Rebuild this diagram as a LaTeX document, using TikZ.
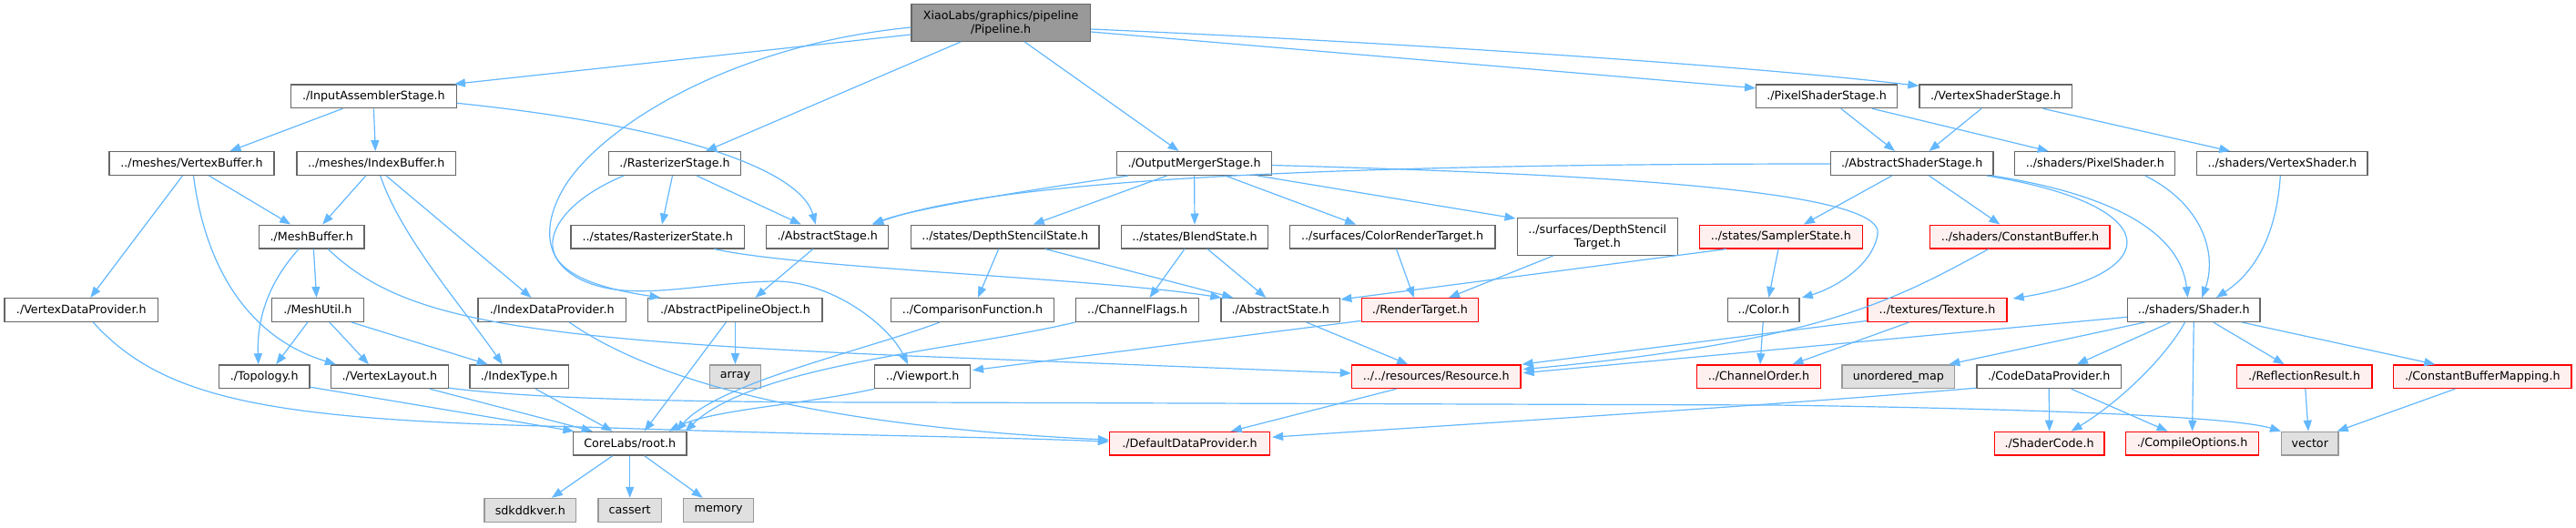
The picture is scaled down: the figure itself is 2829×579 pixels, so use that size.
\documentclass[tikz,border=0pt]{standalone}
\usepackage{fontspec}
\setmainfont{DejaVu Sans}
\usetikzlibrary{arrows.meta,calc}
\definecolor{edgec}{HTML}{63B8FF}
\definecolor{bordc}{HTML}{666666}
\definecolor{redfill}{HTML}{FFF0F0}
\definecolor{grayfill}{HTML}{E0E0E0}
\definecolor{graybord}{HTML}{999999}
\definecolor{mainfill}{HTML}{999999}
\begin{document}
\begin{tikzpicture}[x=1pt,y=-1pt,
  nb/.style={draw=bordc, fill=white, line width=1.3pt, minimum height=25.7pt, inner sep=0pt, font=\fontsize{12.7}{15}\selectfont, text=black},
  nr/.style={nb, draw=red, fill=redfill},
  ng/.style={nb, draw=graybord, fill=grayfill},
  nm/.style={nb, draw=bordc, fill=mainfill, align=center},
  ed/.style={draw=edgec, line width=1.2pt, -{Triangle[length=12pt,width=9pt]}}]
\fill[white] (0,0) rectangle (2829,579);
\useasboundingbox (0,0) rectangle (2829,579);
% row 0
\node[nm, minimum width=196.4pt, minimum height=40.6pt] (pipe) at (1099.2,25) {XiaoLabs/graphics/pipeline\\/Pipeline.h};
% row 1
\node[nb, minimum width=181.8pt] (ias) at (410.4,105.8) {./InputAssemblerStage.h};
\node[nb, minimum width=154.8pt] (pss) at (2006.1,105.8) {./PixelShaderStage.h};
\node[nb, minimum width=167.3pt] (vss) at (2191.6,105.8) {./VertexShaderStage.h};
% row 2
\node[nb, minimum width=181.1pt] (vb) at (210.5,179.5) {../meshes/VertexBuffer.h};
\node[nb, minimum width=174.7pt] (ib) at (413.3,179.5) {../meshes/IndexBuffer.h};
\node[nb, minimum width=145.4pt] (rs) at (741.1,179.5) {./RasterizerStage.h};
\node[nb, minimum width=169.6pt] (oms) at (1311.6,179.5) {./OutputMergerStage.h};
\node[nb, minimum width=178.5pt] (ass) at (2099.8,179.5) {./AbstractShaderStage.h};
\node[nb, minimum width=176pt] (ps) at (2300.8,179.5) {../shaders/PixelShader.h};
\node[nb, minimum width=187.3pt] (vs) at (2506.3,179.5) {../shaders/VertexShader.h};
% row 3
\node[nb, minimum width=115.5pt] (mb) at (342.2,260) {./MeshBuffer.h};
\node[nb, minimum width=190.7pt] (rst) at (722.3,260) {../states/RasterizerState.h};
\node[nb, minimum width=134pt] (as) at (908.8,260) {./AbstractStage.h};
\node[nb, minimum width=206.6pt] (dss) at (1103.7,260) {../states/DepthStencilState.h};
\node[nb, minimum width=161.3pt] (bs) at (1312,260) {../states/BlendState.h};
\node[nb, minimum width=225.8pt] (crt) at (1529.1,260) {../surfaces/ColorRenderTarget.h};
\node[nb, minimum width=176pt, minimum height=40.7pt, align=center] (dst) at (1754.2,260) {../surfaces/DepthStencil\\Target.h};
\node[nr, minimum width=179.2pt] (ss) at (1955.8,260) {../states/SamplerState.h};
\node[nr, minimum width=197.3pt] (cb) at (2218.4,260) {../shaders/ConstantBuffer.h};
% row 4
\node[nb, minimum width=168.4pt] (vdp) at (89.3,340.5) {./VertexDataProvider.h};
\node[nb, minimum width=100.7pt] (mu) at (348.9,340.5) {./MeshUtil.h};
\node[nb, minimum width=162.6pt] (idp) at (606.2,340.5) {./IndexDataProvider.h};
\node[nb, minimum width=191.4pt] (apo) at (807.4,340.5) {./AbstractPipelineObject.h};
\node[nb, minimum width=178.6pt] (cf) at (1068,340.5) {../ComparisonFunction.h};
\node[nb, minimum width=135.2pt] (chf) at (1249.1,340.5) {../ChannelFlags.h};
\node[nb, minimum width=130.8pt] (ast) at (1406.3,340.5) {./AbstractState.h};
\node[nr, minimum width=128.2pt] (rt) at (1559.4,340.5) {./RenderTarget.h};
\node[nb, minimum width=78.6pt] (col) at (1936.8,340.5) {../Color.h};
\node[nr, minimum width=153pt] (tex) at (2127.5,340.5) {../textures/Texture.h};
\node[nb, minimum width=145.5pt] (sh) at (2409.2,340.5) {../shaders/Shader.h};
% row 5
\node[nb, minimum width=99.5pt] (top) at (290.2,413.7) {./Topology.h};
\node[nb, minimum width=128.8pt] (vl) at (427.9,413.7) {./VertexLayout.h};
\node[nb, minimum width=108.4pt] (it) at (570.2,413.7) {./IndexType.h};
\node[ng, minimum width=56.2pt] (arr) at (807.4,413.7) {array};
\node[nb, minimum width=104.6pt] (vp) at (1013.1,413.7) {../Viewport.h};
\node[nr, minimum width=185.6pt] (res) at (1577.2,413.7) {../../resources/Resource.h};
\node[nr, minimum width=135.5pt] (co) at (1931.5,413.7) {../ChannelOrder.h};
\node[ng, minimum width=123.6pt] (um) at (2084.8,413.7) {unordered\_map};
\node[nb, minimum width=158.6pt] (cdp) at (2250.2,413.7) {./CodeDataProvider.h};
\node[nr, minimum width=148.6pt] (rr) at (2530.6,413.7) {./ReflectionResult.h};
\node[nr, minimum width=195.4pt] (cbm) at (2726.3,413.7) {./ConstantBufferMapping.h};
% row 6
\node[nb, minimum width=124.3pt] (core) at (691.7,487.2) {CoreLabs/root.h};
\node[nr, minimum width=176pt] (ddp) at (1306.5,487.2) {./DefaultDataProvider.h};
\node[nr, minimum width=120.5pt] (sc) at (2250.6,487.2) {./ShaderCode.h};
\node[nr, minimum width=146.1pt] (cop) at (2407.6,487.2) {./CompileOptions.h};
\node[ng, minimum width=62.4pt] (vec) at (2536.8,487.2) {vector};
% row 7
\node[ng, minimum width=100.8pt] (sdk) at (582.3,560.3) {sdkddkver.h};
\node[ng, minimum width=69.5pt] (cas) at (691.7,560.3) {cassert};
\node[ng, minimum width=77.2pt] (mem) at (789.2,560.3) {memory};
% edges from Pipeline
\draw[ed] ($(pipe.west)+(0,13)$) -- ($(ias.north east)+(-3,0)$);
\draw[ed] ($(pipe.west)+(0,5)$) .. controls (800,50) and (660,140) .. (620,205) .. controls (590,255) and (600,300) .. (660,315) .. controls (710,328) and (780,310) .. (850,309) .. controls (910,308) and (975,355) .. ($(vp.north)+(-16,0)$);
\draw[ed] ($(pipe.south)+(-44,0)$) -- ($(rs.north)+(34,0)$);
\draw[ed] ($(pipe.south)+(26,0)$) -- ($(oms.north)+(-17,0)$);
\draw[ed] ($(pipe.east)+(0,10)$) -- ($(pss.west)+(0,-9)$);
\draw[ed] ($(pipe.east)+(0,7)$) .. controls (1500,45) and (1900,70) .. ($(vss.north west)+(0,2)$);
% input assembler side
\draw[ed] ($(ias.south)+(-34,0)$) -- ($(vb.north)+(42,0)$);
\draw[ed] (ias.south) -- ($(ib.north)+(-1,0)$);
\draw[ed] ($(ias.east)+(0,7.5)$) .. controls (760,140) and (880,190) .. ($(as.north)+(-13,0)$);
\draw[ed] ($(vb.south)+(19,0)$) -- ($(mb.north)+(-23,0)$);
\draw[ed] ($(vb.south)+(-10,0)$) -- ($(vdp.north)+(10,0)$);
\draw[ed] ($(vb.south)+(2,0)$) .. controls (225,290) and (270,370) .. ($(vl.north west)+(6,0)$);
\draw[ed] ($(ib.south)+(-11.5,0)$) -- ($(mb.north)+(12,0)$);
\draw[ed] ($(ib.south)+(4.4,0)$) .. controls (440,260) and (510,340) .. ($(it.north)+(-18.5,0)$);
\draw[ed] ($(ib.south)+(10.7,0)$) -- ($(idp.north)+(-22.7,0)$);
\draw[ed] ($(mb.south)+(-14,0)$) .. controls (295,310) and (282,350) .. ($(top.north)+(-6.4,0)$);
\draw[ed] ($(mb.south)+(2.2,0)$) -- ($(mu.north)+(-1.3,0)$);
\draw[ed] ($(mb.south)+(18,0)$) .. controls (440,350) and (560,372) .. (1000,391) -- ($(res.west)+(0,-3.7)$);
\draw[ed] ($(mu.south)+(-11,0)$) -- ($(top.north)+(13,0)$);
\draw[ed] ($(mu.south)+(13,0)$) -- ($(vl.north)+(-23,0)$);
\draw[ed] ($(mu.south)+(37,0)$) -- ($(it.north)+(-34.5,0)$);
\draw[ed] ($(vdp.south)+(13,0)$) .. controls (180,440) and (300,462) .. (640,469) .. controls (900,478) and (1100,480) .. ($(ddp.west)+(0,-2)$);
\draw[ed] ($(idp.south)+(19,0)$) .. controls (720,420) and (900,468) .. ($(ddp.west)+(0,-4)$);
\draw[ed] ($(top.south east)+(0,-2)$) -- ($(core.north west)+(1.5,0)$);
\draw[ed] ($(vl.south)+(44,0)$) -- ($(core.north)+(-41,0)$);
\draw[ed] ($(it.south)+(18,0)$) -- ($(core.north)+(-19,0)$);
\draw[ed] ($(vl.south east)+(0,-1)$) .. controls (600,440) and (800,442) .. (1000,442) -- (1950,445) .. controls (2300,450) and (2460,460) .. (vec.north west);
\draw[ed] (apo.south) -- (arr.north);
\draw[ed] ($(apo.south)+(-10,0)$) -- ($(core.north)+(16,0)$);
\draw[ed] ($(as.south)+(-16,0)$) -- ($(apo.north)+(22,0)$);
\draw[ed] ($(cf.south west)+(54,0)$) .. controls (950,385) and (790,420) .. ($(core.north east)+(-12,0)$);
\draw[ed] (chf.south west) .. controls (1050,385) and (830,400) .. ($(core.north east)+(-2,0)$);
\draw[ed] (vp.south west) .. controls (880,445) and (780,450) .. ($(core.north east)+(-20,0)$);
\draw[ed] ($(core.south)+(-19,0)$) -- ($(sdk.north)+(23.6,0)$);
\draw[ed] (core.south) -- (cas.north);
\draw[ed] ($(core.south)+(16,0)$) -- ($(mem.north)+(-17.5,0)$);
% rasterizer
\draw[ed] ($(rs.south)+(-56,0)$) .. controls (620,220) and (595,260) .. (612,285) .. controls (630,310) and (680,320) .. ($(apo.north)+(-82,0)$);
\draw[ed] ($(rs.south)+(-2.6,0)$) -- ($(rst.north)+(4.7,0)$);
\draw[ed] ($(rs.south)+(24,0)$) -- ($(as.north)+(-29,0)$);
\draw[ed] ($(rst.south)+(62,0)$) .. controls (880,295) and (1200,305) .. ($(ast.north west)+(1,0)$);
% output merger
\draw[ed] ($(oms.south west)+(13,0)$) .. controls (1120,210) and (1000,230) .. ($(as.north east)+(-19,0)$);
\draw[ed] ($(ass.west)+(0,0.5)$) .. controls (1500,180) and (1100,195) .. ($(as.north east)+(-18,0)$);
\draw[ed] ($(oms.south)+(-30,0)$) -- ($(dss.north)+(31,0)$);
\draw[ed] (oms.south) -- (bs.north);
\draw[ed] ($(oms.south)+(34,0)$) -- ($(crt.north)+(-40,0)$);
\draw[ed] ($(oms.south east)+(-16,0)$) -- ($(dst.north west)+(-1,1)$);
\draw[ed] ($(oms.east)+(0,2)$) .. controls (1700,190) and (2075,205) .. (2062,258) .. controls (2055,295) and (2010,318) .. ($(col.north east)+(2,0)$);
\draw[ed] ($(dss.south)+(-7,0)$) -- ($(cf.north)+(6,0)$);
\draw[ed] ($(dss.south)+(44,0)$) -- ($(ast.north west)+(14,0)$);
\draw[ed] ($(bs.south)+(-11,0)$) -- ($(chf.north)+(13.4,0)$);
\draw[ed] ($(bs.south)+(14,0)$) -- ($(ast.north)+(-16,0)$);
\draw[ed] ($(crt.south)+(4.4,0)$) -- ($(rt.north)+(-6.7,0)$);
\draw[ed] ($(dst.south)+(-48.5,0)$) -- ($(rt.north)+(31.6,0)$);
\draw[ed] ($(ss.south west)+(30.6,0)$) -- ($(ast.north east)+(0,2)$);
\draw[ed] ($(ss.south)+(-2.8,0)$) -- ($(col.north)+(5.6,0)$);
\draw[ed] ($(ast.south)+(28.4,0)$) -- ($(res.north)+(-31,0)$);
\draw[ed] ($(rt.south west)+(0,-1.6)$) -- ($(vp.east)+(2,-7)$);
\draw[ed] ($(res.south)+(-43.7,0)$) -- ($(ddp.north)+(45.3,0)$);
% shader side
\draw[ed] ($(tex.south west)+(0,-1.6)$) -- ($(res.north east)+(1,0)$);
\draw[ed] ($(cb.south)+(-34.4,0)$) .. controls (2080,330) and (2000,375) .. ($(res.east)+(2,-8)$);
\draw[ed] ($(sh.west)+(0,7.8)$) -- ($(res.east)+(2,-4)$);
\draw[ed] ($(col.south)+(-0.6,0)$) -- ($(co.north)+(1.5,0)$);
\draw[ed] ($(tex.south)+(-31,0)$) -- ($(co.north)+(37,0)$);
\draw[ed] ($(sh.south)+(-53.5,0)$) -- ($(um.north)+(55.5,0)$);
\draw[ed] ($(sh.south)+(-25.4,0)$) -- ($(cdp.north)+(30.6,0)$);
\draw[ed] ($(sh.south)+(-9.7,0)$) .. controls (2380,390) and (2330,440) .. ($(sc.north)+(24,0)$);
\draw[ed] (sh.south) -- (cop.north);
\draw[ed] ($(sh.south)+(21.5,0)$) -- ($(rr.north)+(-22,0)$);
\draw[ed] ($(sh.south)+(52.7,0)$) -- ($(cbm.north)+(-52,0)$);
\draw[ed] (cdp.south) -- (sc.north);
\draw[ed] ($(cdp.south)+(24.4,0)$) -- ($(cop.north)+(-27,0)$);
\draw[ed] ($(cdp.south west)+(0,-1)$) .. controls (1950,445) and (1700,460) .. ($(ddp.east)+(2,-7)$);
\draw[ed] ($(rr.south)+(1.2,0)$) -- ($(vec.north)+(-1.8,0)$);
\draw[ed] ($(cbm.south)+(-30,0)$) -- ($(vec.north east)+(-2,0)$);
\draw[ed] ($(pss.south)+(15.6,0)$) -- ($(ass.north)+(-18.8,0)$);
\draw[ed] ($(pss.south)+(50,0)$) -- ($(ps.north)+(-51,0)$);
\draw[ed] ($(vss.south)+(-15.6,0)$) -- ($(ass.north)+(18.7,0)$);
\draw[ed] ($(vss.south)+(52,0)$) -- ($(vs.north)+(-57,0)$);
\draw[ed] ($(ass.south)+(-22,0)$) -- ($(ss.north)+(25,0)$);
\draw[ed] ($(ass.south)+(18.7,0)$) -- ($(cb.north)+(-22,0)$);
\draw[ed] ($(ass.south east)+(-8,0)$) .. controls (2380,225) and (2380,300) .. ($(tex.north east)+(6,1)$);
\draw[ed] ($(ass.south east)+(-2,0)$) .. controls (2330,215) and (2395,260) .. ($(sh.north)+(-6.6,0)$);
\draw[ed] ($(ps.south)+(55,0)$) .. controls (2420,225) and (2435,280) .. ($(sh.north)+(9,0)$);
\draw[ed] ($(vs.south)+(-2,0)$) .. controls (2500,260) and (2475,300) .. ($(sh.north)+(24.6,0)$);
\end{tikzpicture}
\end{document}
